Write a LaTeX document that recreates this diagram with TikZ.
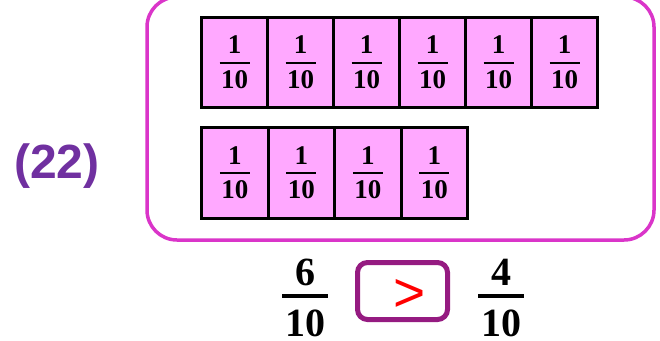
\documentclass[tikz,border=0pt]{standalone}
\usepackage{fontspec}
\usetikzlibrary{calc}
\setmainfont{Liberation Serif}
\newfontfamily\labelfont{Liberation Sans}
\definecolor{cellpink}{HTML}{FFA8FF}
\definecolor{framemag}{HTML}{DA35C9}
\definecolor{labelpurple}{HTML}{7030A0}
\definecolor{signbox}{HTML}{951B81}
\begin{document}
\begin{tikzpicture}[x=1pt,y=-1pt,
  cell/.style={draw=black,fill=cellpink,line width=3pt,minimum width=66pt,minimum height=90pt,inner sep=0pt,anchor=north west},
  smallnum/.style={inner sep=0pt,font=\bfseries\fontsize{27}{27}\selectfont},
  bignum/.style={inner sep=0pt,font=\bfseries\fontsize{40}{40}\selectfont},
  smallbar/.style={line width=2pt},
  bigbar/.style={line width=4pt},
  framebox/.style={draw=framemag,line width=3.5pt,rounded corners=30pt},
  signframe/.style={draw=signbox,line width=5pt,rounded corners=10pt,minimum width=90pt,minimum height=57pt,inner sep=0pt}]
\useasboundingbox (0,0) rectangle (660,340);
% outer frame
\draw[framebox] (147,-3) rectangle (654,240);
% label
\node[text=labelpurple,font=\labelfont\bfseries\fontsize{48}{48}\selectfont,inner sep=0pt] (lab) at (57,166) {(22)};
% row 1
\foreach \i in {1,...,6}{
  \node[cell] (a\i) at ({200+66*(\i-1)},16) {};
  \node[smallnum] (an\i) at ($(a\i.center)+(0,-17.5)$) {1};
  \node[smallnum] (ad\i) at ($(a\i.center)+(0,17)$) {10};
  \draw[smallbar] ($(a\i.center)+(-15,0)$) -- ($(a\i.center)+(15,0)$);
}
% row 2
\foreach \i in {1,...,4}{
  \node[cell,minimum height=91pt,minimum width=66.5pt] (b\i) at ({200+66.5*(\i-1)},126) {};
  \node[smallnum] (bn\i) at ($(b\i.center)+(0,-17.5)$) {1};
  \node[smallnum] (bd\i) at ($(b\i.center)+(0,17)$) {10};
  \draw[smallbar] ($(b\i.center)+(-15,0)$) -- ($(b\i.center)+(15,0)$);
}
% bottom comparison
\node[bignum] (ln) at (305,272) {6};
\coordinate (lbar) at (305,296);
\draw[bigbar] ($(lbar)+(-23,0)$) -- ($(lbar)+(23,0)$);
\node[bignum] (ld) at (305,323.5) {10};
\node[signframe] (sg) at (402.5,291) {};
\node[text=red,font=\labelfont\fontsize{55}{55}\selectfont,inner sep=0pt,anchor=base] (gt) at (410,311) {>};
\node[bignum] (rn) at (501,272) {4};
\coordinate (rbar) at (501,296);
\draw[bigbar] ($(rbar)+(-23,0)$) -- ($(rbar)+(23,0)$);
\node[bignum] (rd) at (501,323.5) {10};
\end{tikzpicture}
\end{document}
